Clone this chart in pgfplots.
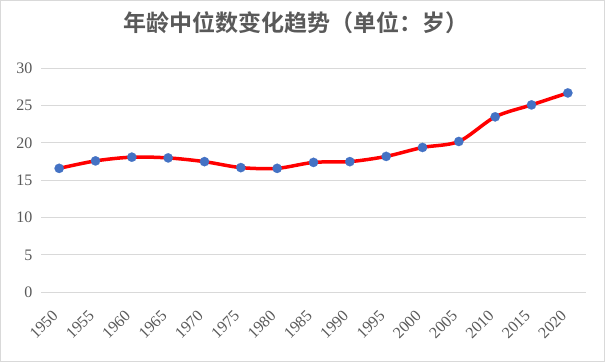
\documentclass[border=0pt]{standalone}
\usepackage{pgfplots}
\pgfplotsset{compat=1.18}
\usepackage{fontspec}
\setmainfont{Liberation Serif}
\newfontfamily\cjk{Noto Sans CJK SC}[BoldFont={* Bold}]
\definecolor{txt}{HTML}{595959}
\definecolor{grid}{HTML}{D9D9D9}
\definecolor{mk}{HTML}{4472C4}
\begin{document}
\begin{tikzpicture}
\useasboundingbox (0pt,0pt) rectangle (605pt,362pt);
\draw[color=grid,line width=1pt] (0.5pt,0.5pt) rectangle (604.5pt,361.5pt);
\node[text=txt,font=\cjk\bfseries\fontsize{23}{25}\selectfont] at (296pt,339pt) {年龄中位数变化趋势（单位：岁）};
\begin{axis}[
  at={(41pt,69.7pt)}, anchor=south west,
  scale only axis, width=545pt, height=224pt,
  xmin=-0.5, xmax=14.5, ymin=0, ymax=30,
  ytick={0,5,...,30},
  xtick={0,...,14},
  xticklabels={1950,1955,1960,1965,1970,1975,1980,1985,1990,1995,2000,2005,2010,2015,2020},
  axis line style={draw=none},
  major tick length=0pt,
  ymajorgrids, grid style={color=grid,line width=1pt},
  /pgf/number format/assume math mode=true,
  tick label style={text=txt,font=\fontsize{16}{18}\selectfont},
  yticklabel style={xshift=-5pt},
  xticklabel style={xshift=-8pt,yshift=-12pt,rotate=45,anchor=north east},
  clip=false,
]
\addplot[color=red,line width=3.5pt,smooth,tension=0.5,no marks]
  coordinates {
  (0,16.6) (1,17.6) (2,18.1) (3,18.0) (4,17.5) (5,16.7) (6,16.6) (7,17.4)
  (8,17.5) (9,18.2) (10,19.4) (11,20.2) (12,23.5) (13,25.1) (14,26.7)
  };
\addplot[only marks,mark=*,mark size=4.7pt,mark options={fill=mk,draw=mk,line width=0.1pt}]
  coordinates {
  (0,16.6) (1,17.6) (2,18.1) (3,18.0) (4,17.5) (5,16.7) (6,16.6) (7,17.4)
  (8,17.5) (9,18.2) (10,19.4) (11,20.2) (12,23.5) (13,25.1) (14,26.7)
  };
\end{axis}
\end{tikzpicture}
\end{document}
